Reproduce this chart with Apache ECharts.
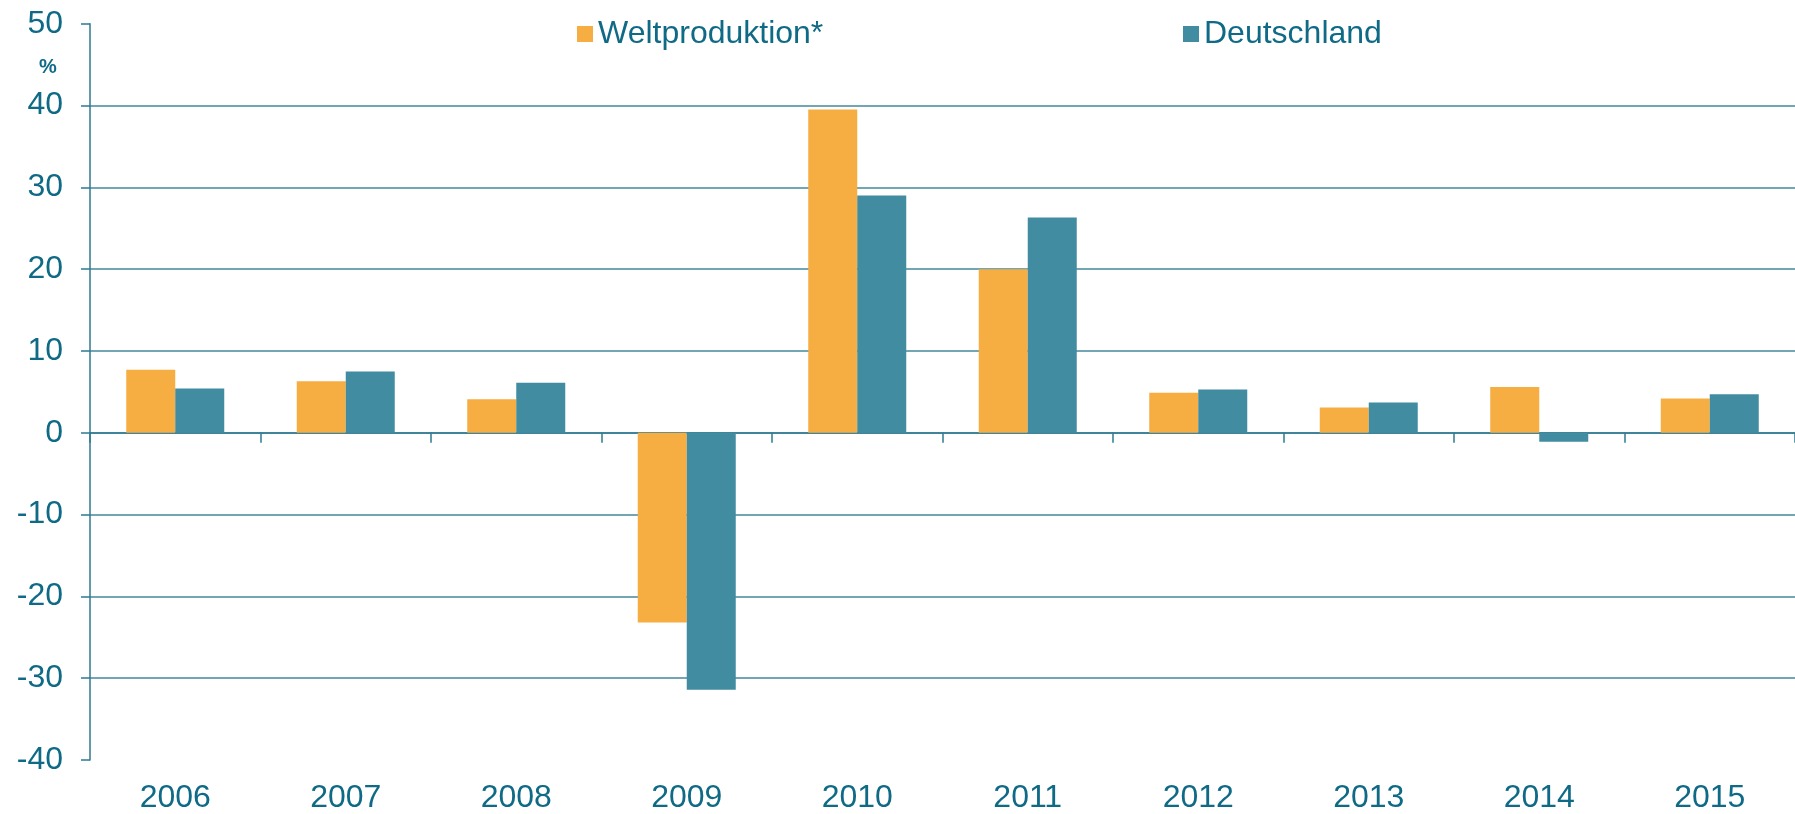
<!DOCTYPE html>
<html>
<head>
<meta charset="utf-8">
<script src="https://cdn.jsdelivr.net/npm/echarts@6/dist/echarts.min.js"></script>
<style>
  html, body { margin: 0; padding: 0; background: #fff; }
  #chart { width: 1795px; height: 814px; }
</style>
</head>
<body>
<div id="chart"></div>
<script>
// Veränderung gegenüber Vorjahr in %
const years = ["2006", "2007", "2008", "2009", "2010", "2011", "2012", "2013", "2014", "2015"];
const weltproduktion = [7.7, 6.3, 4.1, -23.2, 39.5, 20.0, 4.9, 3.1, 5.6, 4.2];
const deutschland = [5.4, 7.5, 6.1, -31.4, 29.0, 26.3, 5.3, 3.7, -1.1, 4.7];
const yMin = -40;
const yMax = 50;
const yStep = 10;

const textColor = "#0f6a86";
const lineColor = "#2f7a92";
const font = "Liberation Sans";

const chart = echarts.init(document.getElementById("chart"));

chart.setOption({
  animation: false,
  color: ["#f6ad42", "#418ca0"],
  grid: {
    left: 90,
    top: 23.7,
    width: 1727,
    height: 738,
  },
  legend: [
    {
      data: ["Weltproduktion*"],
      left: 577,
      top: 18,
      padding: 0,
      itemWidth: 16,
      itemHeight: 16,
      icon: "rect",
      textStyle: { color: textColor, fontSize: 32, fontFamily: font, lineHeight: 32 },
    },
    {
      data: ["Deutschland"],
      left: 1183,
      top: 18,
      padding: 0,
      itemWidth: 16,
      itemHeight: 16,
      icon: "rect",
      textStyle: { color: textColor, fontSize: 32, fontFamily: font, lineHeight: 32 },
    },
  ],
  graphic: [
    {
      type: "text",
      left: 39,
      top: 57,
      style: { text: "%", fill: textColor, font: "bold 20px 'Liberation Sans'" },
    },
  ],
  xAxis: [
    {
      // labels at the bottom of the plot
      type: "category",
      data: years,
      position: "bottom",
      axisLine: { show: false, onZero: false },
      axisTick: { show: false },
      axisLabel: { color: textColor, fontSize: 32, fontFamily: font, margin: 22 },
    },
    {
      // axis line and ticks on the zero line
      type: "category",
      data: years,
      position: "bottom",
      axisLine: { show: true, onZero: true, lineStyle: { color: lineColor, width: 1.5 } },
      axisTick: { show: true, length: 10, lineStyle: { color: lineColor, width: 1.5 } },
      axisLabel: { show: false },
    },
  ],
  yAxis: {
    type: "value",
    min: yMin,
    max: yMax,
    interval: yStep,
    axisLine: { show: true, lineStyle: { color: lineColor, width: 1.5 } },
    axisTick: { show: true, length: 9, lineStyle: { color: lineColor, width: 1.5 } },
    axisLabel: { color: textColor, fontSize: 32, fontFamily: font, margin: 27 },
    splitLine: {
      show: true,
      showMinLine: false,
      showMaxLine: false,
      lineStyle: { color: "#45889d", width: 1.6 },
    },
  },
  series: [
    {
      name: "Weltproduktion*",
      type: "bar",
      xAxisIndex: 0,
      data: weltproduktion,
      barWidth: 49,
      barGap: "0%",
    },
    {
      name: "Deutschland",
      type: "bar",
      xAxisIndex: 0,
      data: deutschland,
      barWidth: 49,
      barGap: "0%",
    },
  ],
});
</script>
</body>
</html>
